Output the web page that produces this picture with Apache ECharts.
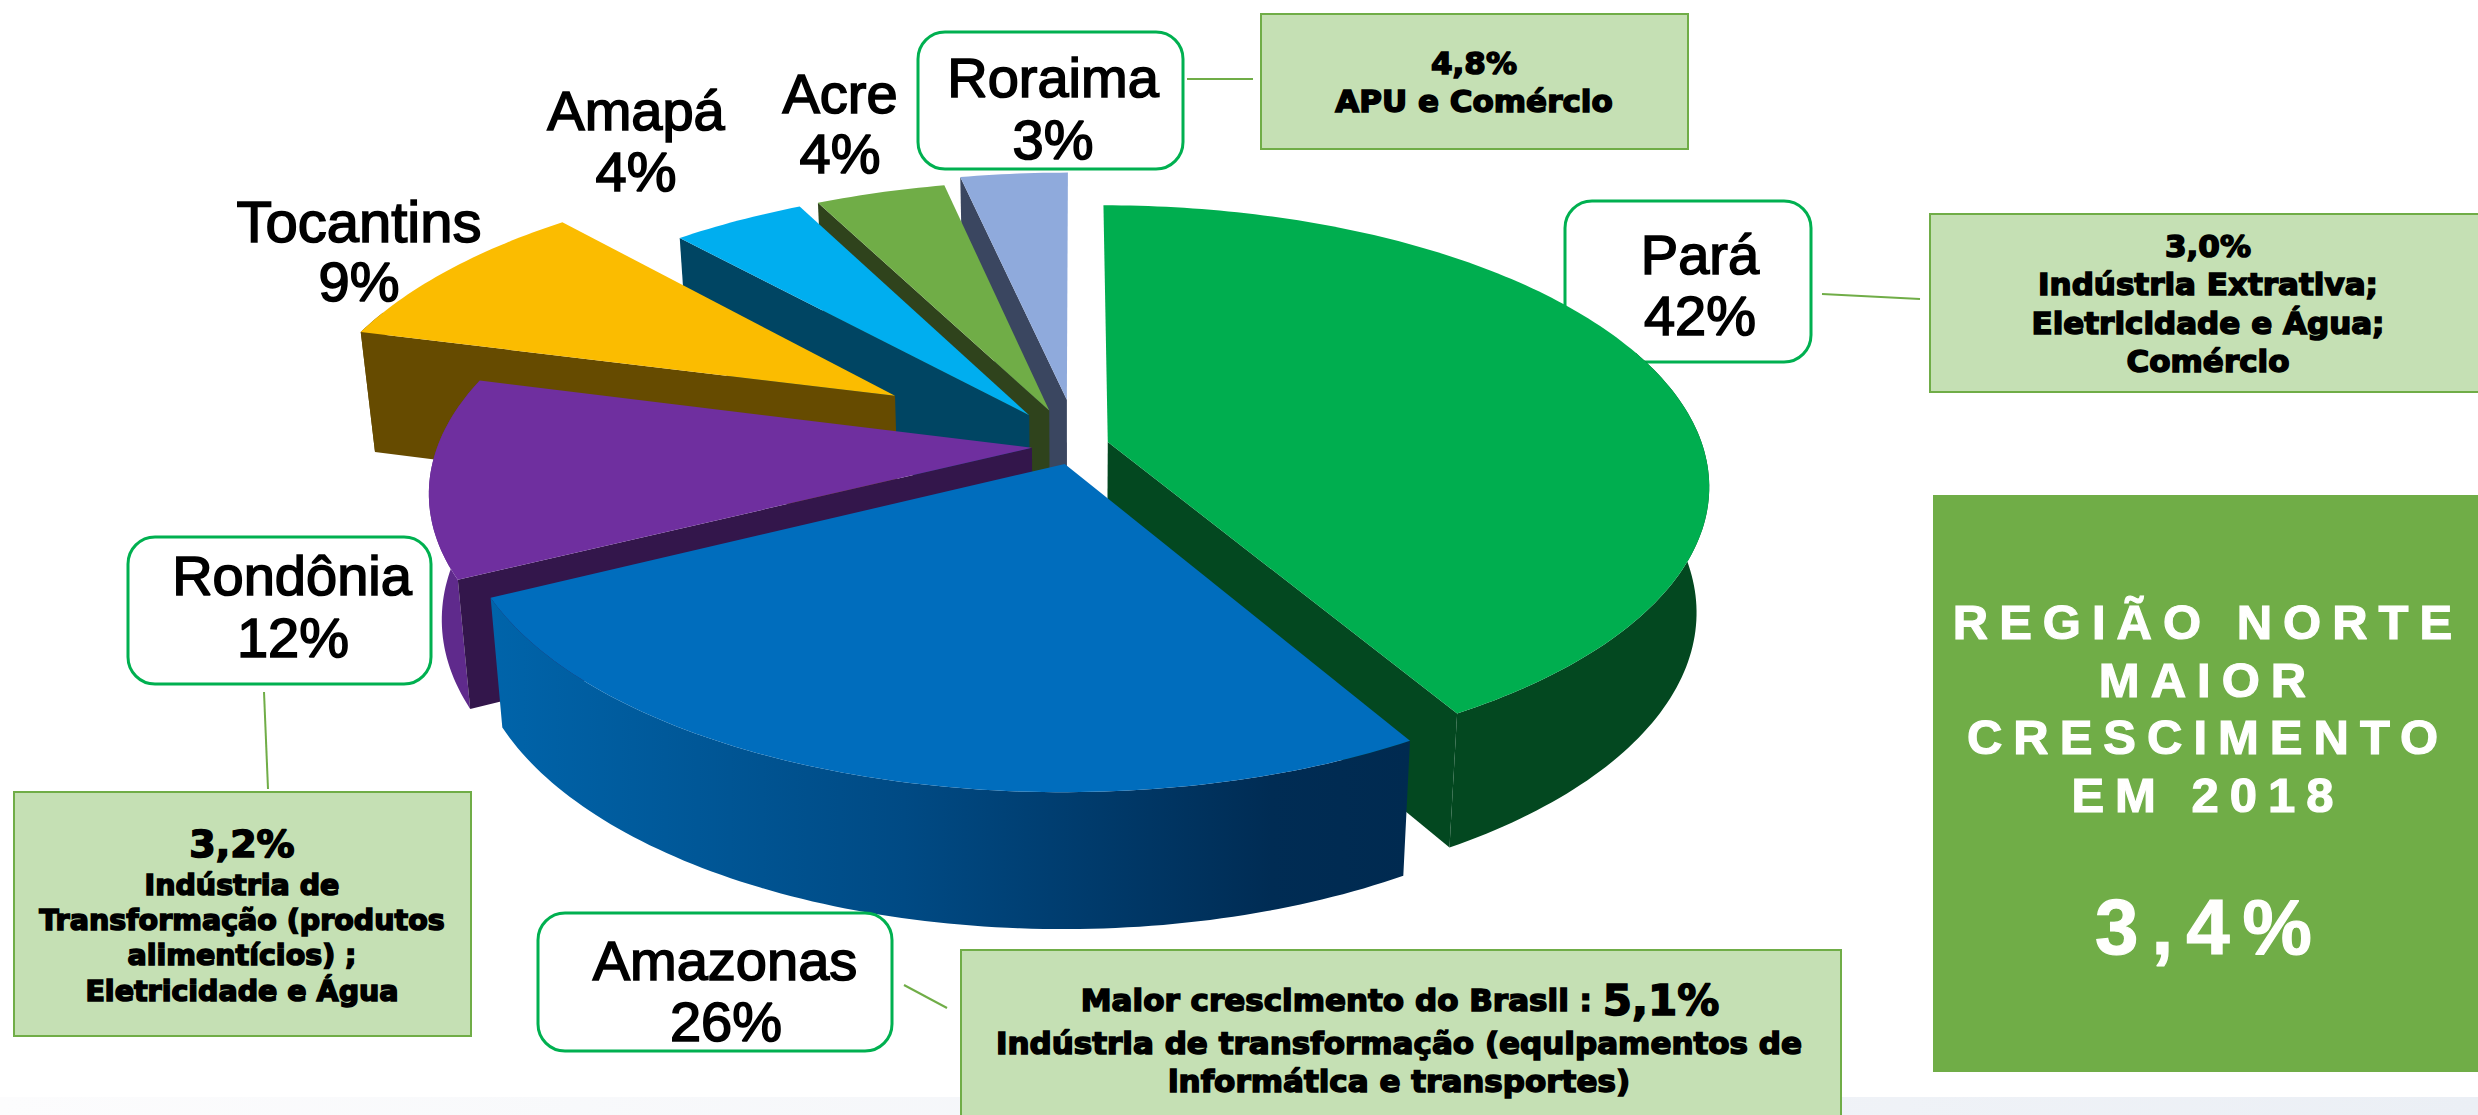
<!DOCTYPE html>
<html lang="pt">
<head>
<meta charset="utf-8">
<style>
html,body{margin:0;padding:0;background:#fff}
#main{width:2478px;height:1115px}
svg text[fill="#fffffe"]{letter-spacing:11px}
svg text[fill="#fffffd"]{letter-spacing:13px}
</style>
<script src="https://cdn.jsdelivr.net/npm/echarts@6/dist/echarts.min.js"></script>
</head>
<body>
<div id="main"></div>
<script>
// ---- data ----
const categories = ['Pará', 'Amazonas', 'Rondônia', 'Tocantins', 'Amapá', 'Acre', 'Roraima'];
const shares = [41.6, 26.0, 11.5, 9.2, 4.2, 4.1, 3.4];
const shareLabels = ['42%', '26%', '12%', '9%', '4%', '4%', '3%'];
const topColors = ['#00ae4f', '#006dbd', '#6f2f9f', '#fbbc00', '#00aeef', '#70ad47', '#8faadc'];
const wallColors = ['#034820', '#002a50', '#33164b', '#664b00', '#004563', '#2f431c', '#3a4660'];
const sideColors = ['#034820', null, '#5f2a8c', '#664b00', '#004563', '#2f431c', '#3a4660'];
const explodeX = [0.055, -0.017, -0.072, -0.31, -0.078, -0.044, -0.014];
const explodeY = [0.011, 0.09, 0.032, -0.162, -0.088, -0.106, -0.147];
const sliceRadius = [0.996, 0.99, 0.995, 1, 1, 1, 1];
const paintOrder = [6, 5, 4, 3, 2, 0, 1];

const calloutParaLines = ['3,0%', 'Indústria Extrativa;', 'Eletricidade e Água;', 'Comércio'];
const calloutRoraimaLines = ['4,8%', 'APU e Comércio'];
const calloutRondoniaHead = '3,2%';
const calloutRondoniaLines = ['Indústria de', 'Transformação (produtos', 'alimentícios) ;', 'Eletricidade e Água'];
const calloutAmazonasHead = 'Maior crescimento do Brasil : ';
const calloutAmazonasValue = '5,1%';
const calloutAmazonasLines = ['Indústria de transformação (equipamentos de', 'informática e transportes)'];
const headlineLines = ['REGIÃO NORTE', 'MAIOR', 'CRESCIMENTO', 'EM 2018'];
const headlineValue = '3,4%';

// ---- perspective projection of the pie plane ----
const CX = 1075, CY = 439, A = 273, B = 595, K = 0.153;
const BOTTOM_SX = 0.98, BOTTOM_SY = 1.037, BOTTOM_DY = 107.6;
function topPoint(x, y) {
  const f = 1 / (1 - K * y);
  return [CX + B * x * f, CY + A * y * f];
}
function bottomPoint(p) {
  return [CX + BOTTOM_SX * (p[0] - CX), p[1] * BOTTOM_SY + BOTTOM_DY];
}
const totalShare = shares.reduce((a, b) => a + b, 0);
function sliceAngles(i) {
  let before = 0;
  for (let j = 0; j < i; j++) before += shares[j];
  return [before / totalShare * 2 * Math.PI, (before + shares[i]) / totalShare * 2 * Math.PI];
}

function renderSlice(params, api) {
  const i = paintOrder[params.dataIndex];
  const [a0, a1] = sliceAngles(i);
  const ex = explodeX[i], ey = explodeY[i], r = sliceRadius[i];
  const apex = topPoint(ex, ey);
  const apexB = bottomPoint(apex);
  const rim = [], front = [];
  const steps = Math.max(4, Math.ceil((a1 - a0) / (Math.PI / 180)));
  for (let s = 0; s <= steps; s++) {
    const t = a0 + (a1 - a0) * s / steps;
    const p = topPoint(ex + r * Math.sin(t), ey - r * Math.cos(t));
    rim.push(p);
    if (-Math.cos(t) > -0.35) front.push(p);
  }
  const rimB0 = bottomPoint(rim[0]), rimB1 = bottomPoint(rim[steps]);
  const children = [];
  const sideFill = sideColors[i] || new echarts.graphic.LinearGradient(0, 0, 1, 0, [
    { offset: 0, color: '#0064aa' },
    { offset: 0.45, color: '#004a84' },
    { offset: 0.85, color: '#002c54' },
    { offset: 1, color: '#002a50' }
  ]);
  if (front.length > 1) {
    children.push({ type: 'polygon', shape: { points: front.concat(front.map(bottomPoint).reverse()) }, style: { fill: sideFill } });
  }
  if (Math.sin(a0) < -1e-6) {
    children.push({ type: 'polygon', shape: { points: [apex, rim[0], rimB0, apexB] }, style: { fill: wallColors[i] } });
  }
  if (Math.sin(a1) > 1e-6) {
    children.push({ type: 'polygon', shape: { points: [apex, rim[steps], rimB1, apexB] }, style: { fill: wallColors[i] } });
  }
  children.push({ type: 'polygon', shape: { points: [apex].concat(rim) }, style: { fill: topColors[i] } });
  return { type: 'group', children };
}

// ---- annotation helpers ----
const SANS = '"Liberation Sans", Arial, sans-serif';
const HEAVY = '"DejaVu Sans", "Liberation Sans", sans-serif';
function label(text, x, y, size) {
  return { type: 'text', z: 20, style: { text, x, y, fill: '#000', stroke: '#000', lineWidth: 1.6, font: (size || 56) + 'px ' + SANS, textAlign: 'center', textVerticalAlign: 'middle' } };
}
function heavy(text, x, y, size) {
  return { type: 'text', z: 20, style: { text, x, y, fill: '#000', stroke: '#000', lineWidth: 1.6, font: 'bold ' + size + 'px ' + HEAVY, textAlign: 'center', textVerticalAlign: 'middle' } };
}
function rbox(x0, y0, x1, y1, z) {
  return { type: 'rect', z, shape: { x: x0, y: y0, width: x1 - x0, height: y1 - y0, r: 27 }, style: { fill: '#fff', stroke: '#00b050', lineWidth: 3 } };
}
function gbox(x0, y0, x1, y1) {
  return { type: 'rect', z: 1, shape: { x: x0, y: y0, width: x1 - x0, height: y1 - y0 }, style: { fill: '#c5e0b4', stroke: '#70ad47', lineWidth: 2 } };
}
function conn(x0, y0, x1, y1) {
  return { type: 'line', z: 1, shape: { x1: x0, y1: y0, x2: x1, y2: y1 }, style: { stroke: '#70ad47', lineWidth: 2 } };
}

const graphics = [
  { type: 'rect', z: 0, shape: { x: 0, y: 1097, width: 2478, height: 18 },
    style: { fill: new echarts.graphic.LinearGradient(0, 0, 1, 0, [{ offset: 0, color: '#fcfcfd' }, { offset: 1, color: '#ebeff5' }]) } },
  rbox(918, 32, 1183, 169, 1),
  rbox(1565, 201, 1811, 362, 1),
  rbox(128, 537, 431, 684, 1),
  rbox(538, 913, 892, 1051, 10),
  gbox(1261, 14, 1688, 149),
  gbox(1930, 214, 2490, 392),
  gbox(14, 792, 471, 1036),
  gbox(961, 950, 1841, 1130),
  conn(1187, 79, 1253, 79),
  conn(1822, 294, 1920, 299),
  conn(264, 692, 268, 789),
  conn(904, 985, 947, 1008),
  { type: 'rect', z: 1, shape: { x: 1933, y: 495, width: 560, height: 577 }, style: { fill: '#70ad47' } },

  label(categories[0], 1700, 254), label(shareLabels[0], 1700, 315),
  label(categories[1], 725, 960), label(shareLabels[1], 726, 1021),
  label(categories[2], 292, 575), label(shareLabels[2], 293, 637),
  label(categories[3], 359, 221, 58), label(shareLabels[3], 359, 281),
  label(categories[4], 636, 110), label(shareLabels[4], 636, 171),
  label(categories[5], 840, 93), label(shareLabels[5], 840, 153),
  label(categories[6], 1053, 77), label(shareLabels[6], 1053, 139),

  heavy(calloutRoraimaLines[0], 1474, 63, 31), heavy(calloutRoraimaLines[1], 1474, 101, 31),

  heavy(calloutParaLines[0], 2208, 246, 31), heavy(calloutParaLines[1], 2208, 284, 31),
  heavy(calloutParaLines[2], 2208, 323, 31), heavy(calloutParaLines[3], 2208, 361, 31),

  heavy(calloutRondoniaHead, 242, 844, 38),
  heavy(calloutRondoniaLines[0], 242, 885, 28.5), heavy(calloutRondoniaLines[1], 242, 920, 28.5),
  heavy(calloutRondoniaLines[2], 242, 955, 28.5), heavy(calloutRondoniaLines[3], 242, 991, 28.5),

  { type: 'text', z: 20, style: {
      text: '{a|' + calloutAmazonasHead + '}{b|' + calloutAmazonasValue + '}', x: 1400, y: 1000,
      textAlign: 'center', textVerticalAlign: 'middle',
      rich: {
        a: { font: 'bold 31px ' + HEAVY, fill: '#000', stroke: '#000', lineWidth: 1.6 },
        b: { font: 'bold 42px ' + HEAVY, fill: '#000', stroke: '#000', lineWidth: 1.6 }
      }
  } },
  heavy(calloutAmazonasLines[0], 1399, 1043, 31), heavy(calloutAmazonasLines[1], 1399, 1081, 31),

  ...headlineLines.map((t, i) => ({
    type: 'text', z: 20,
    style: { text: t, x: 2208, y: 622 + i * 57.6, fill: '#fffffe', stroke: '#fffffe', lineWidth: 1.2, font: 'bold 49px ' + SANS, textAlign: 'center', textVerticalAlign: 'middle' }
  })),
  { type: 'text', z: 20, style: { text: headlineValue, x: 2210, y: 927, fill: '#fffffd', stroke: '#fffffd', lineWidth: 1.2, font: 'bold 78px ' + SANS, textAlign: 'center', textVerticalAlign: 'middle' } }
];

const chart = echarts.init(document.getElementById('main'), null, { renderer: 'svg', width: 2478, height: 1115 });
chart.setOption({
  animation: false,
  backgroundColor: '#fff',
  graphic: graphics,
  series: [{
    type: 'custom',
    coordinateSystem: 'none',
    z: 5,
    silent: true,
    renderItem: renderSlice,
    data: paintOrder.map(i => ({ name: categories[i], value: shares[i] }))
  }]
});
</script>
</body>
</html>
